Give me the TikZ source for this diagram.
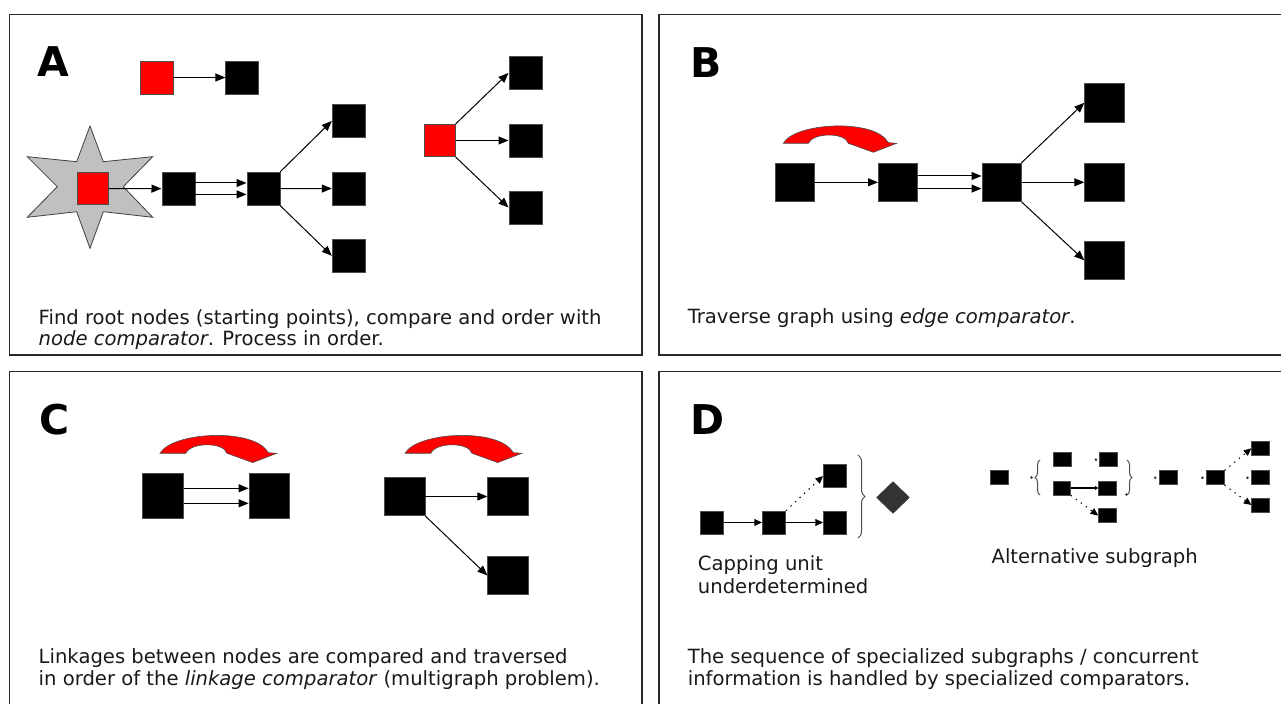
\documentclass[tikz,border=0pt]{standalone}
\usepackage{fontspec}
\setmainfont{DejaVu Sans}
\usepackage{tikz}
\usetikzlibrary{arrows.meta,shapes.geometric,decorations.pathreplacing}
\definecolor{stargray}{RGB}{192,192,192}
\definecolor{capgray}{RGB}{51,51,51}
\definecolor{framegray}{RGB}{40,40,40}

% red bent arrow, #1/#2 = left end of its tail, #3 = scale
\newcommand{\turnarrow}[3]{%
  \filldraw[turnfill, shift={(#1,#2)}, scale=#3]
    (0,0) .. controls (12,-21) and (92,-25) .. (105,-0.6) -- (113.4,0)
    -- (90,9) -- (65,0) .. controls (62,-11) and (30,-11) .. (25,0) -- cycle;}

\begin{document}
\begin{tikzpicture}[
    x=0.5pt, y=-0.5pt,
    panel/.style={draw=framegray, line width=0.7pt},
    letter/.style={font=\fontsize{20.5}{24}\selectfont\bfseries, anchor=base west, inner sep=0pt},
    note/.style={font=\fontsize{9.8}{11}\selectfont, anchor=base west, inner sep=0pt, text=black!90},
    blk/.style={draw=black!70, line width=0.3pt, fill=black, inner sep=0pt,
      minimum width=16.5pt, minimum height=16.5pt},
    rootblk/.style={blk, fill=red},
    bblk/.style={blk, minimum width=19.7pt, minimum height=19.2pt},
    cblk/.style={blk, minimum width=20.3pt, minimum height=19.2pt},
    dblk/.style={blk, minimum width=11.7pt, minimum height=11.5pt},
    sblk/.style={blk, minimum width=8.8pt, minimum height=7pt},
    arr/.style={-{Triangle[length=5pt,width=4pt]}, line width=0.5pt},
    darr/.style={-{Triangle[length=3.8pt,width=3.4pt]}, line width=0.5pt},
    dotarr/.style={darr, dash pattern=on 0.7pt off 2.4pt},
    tinyarr/.style={-{Triangle[length=1.6pt,width=2pt]}, line width=0.6pt},
    stubdot/.style={fill=black!80},
    turnfill/.style={fill=red, draw=black!70, line width=0.3pt},
    bracepath/.style={decorate, draw=black!70, line width=0.5pt},
  ]
  \useasboundingbox (0,0) rectangle (1281,704);
  \clip (0,0) rectangle (1281,704);

  % Frames
  \draw[panel] (9.3,14.3) rectangle (642,355);
  \draw[panel] (659,14.3) rectangle (1290,355);
  \draw[panel] (9.3,371.7) rectangle (642,720);
  \draw[panel] (659,371.7) rectangle (1290,720);

  % A: root nodes
  \node[letter] (tagA) at (37.3,76.7) {A};
  \node[rootblk, minimum width=16.3pt] (rtop) at (157,77.5) {};
  \node[blk] (ktop) at (242.2,77.5) {};
  \draw[arr] (rtop) -- (ktop);

  \filldraw[fill=stargray, draw=black!75, line width=0.4pt]
    (90,126) -- (103.3,161.7) -- (152.7,156.7) -- (123.3,186.7) -- (152.7,217.3)
    -- (103.3,211.7) -- (90,248.3) -- (76.7,211.7) -- (27.3,217.3) -- (57.3,186.7)
    -- (27.3,156.7) -- (76.7,161.7) -- cycle;
  \node[rootblk, minimum width=15.5pt, minimum height=16pt] (rstar) at (92.8,188.5) {};
  \node[blk] (b1) at (178.3,188.7) {};
  \node[blk] (b2) at (263.3,188.7) {};
  \node[blk] (t1) at (348.6,121) {};
  \node[blk] (t2) at (348.6,188.5) {};
  \node[blk] (t3) at (348.6,255.8) {};
  \draw[arr] (rstar) -- (b1);
  \draw[arr] ([yshift=2.85pt]b1.east) -- ([yshift=2.85pt]b2.west);
  \draw[arr] ([yshift=-2.85pt]b1.east) -- ([yshift=-2.85pt]b2.west);
  \draw[arr] (b2.north east) -- (t1.west);
  \draw[arr] (b2) -- (t2);
  \draw[arr] (b2.south east) -- (t3.west);

  \node[rootblk, minimum width=15.3pt, minimum height=16.2pt] (rhub) at (440,140.5) {};
  \node[blk] (r1) at (525.3,73) {};
  \node[blk] (r2) at (525.3,140.5) {};
  \node[blk] (r3) at (525.3,207.5) {};
  \draw[arr] (rhub.north east) -- (r1.west);
  \draw[arr] (rhub) -- (r2);
  \draw[arr] (rhub.south east) -- (r3.west);

  \node[note] (capA1) at (38.3,324.3) {Find root nodes (starting points), compare and order with};
  \node[note] (capA2) at (38.3,346) {\textit{node comparator}. Process in order.};

  % B: edge comparator
  \node[letter] (tagB) at (690.2,77.3) {B};
  \turnarrow{783.3}{143.3}{1}
  \node[bblk] (p1) at (794.5,182.3) {};
  \node[bblk] (p2) at (898,182.3) {};
  \node[bblk] (p3) at (1001.5,182.3) {};
  \node[bblk] (q1) at (1104.3,102.8) {};
  \node[bblk] (q2) at (1104.3,182.3) {};
  \node[bblk] (q3) at (1104.3,260.3) {};
  \draw[arr] (p1) -- (p2);
  \draw[arr] ([yshift=3.15pt]p2.east) -- ([yshift=3.15pt]p3.west);
  \draw[arr] ([yshift=-3.15pt]p2.east) -- ([yshift=-3.15pt]p3.west);
  \draw[arr] (p3.north east) -- (q1.west);
  \draw[arr] (p3) -- (q2);
  \draw[arr] (p3.south east) -- (q3.west);

  \node[note] (capB) at (687.4,323.3) {Traverse graph using \textit{edge comparator}.};

  % C: linkage comparator
  \node[letter] (tagC) at (38.8,434.5) {C};
  \turnarrow{160}{453.3}{1.03}
  \turnarrow{405}{453.3}{1.03}
  \node[cblk, minimum height=22.5pt] (c1) at (163,495.8) {};
  \node[cblk, minimum height=22.5pt] (c2) at (269.2,495.8) {};
  \draw[arr] ([yshift=3.75pt]c1.east) -- ([yshift=3.75pt]c2.west);
  \draw[arr] ([yshift=-3.75pt]c1.east) -- ([yshift=-3.75pt]c2.west);
  \node[cblk] (c3) at (404.7,496.5) {};
  \node[cblk] (c4) at (508,496.5) {};
  \node[cblk] (c5) at (508,575.5) {};
  \draw[arr] (c3) -- (c4);
  \draw[arr] (c3.south east) -- (c5.west);

  \node[note] (capC1) at (38.3,664) {Linkages between nodes are compared and traversed};
  \node[note] (capC2) at (38.3,685.5) {in order of the \textit{linkage comparator} (multigraph problem).};

  % D: specialized comparators
  \node[letter] (tagD) at (690.2,435) {D};
  \node[dblk] (d1) at (711.7,522.5) {};
  \node[dblk] (d2) at (774,522.5) {};
  \node[dblk] (d3) at (835,522.5) {};
  \node[dblk] (d4) at (835,476) {};
  \draw[darr] (d1) -- (d2);
  \draw[darr] (d2) -- (d3);
  \draw[dotarr] (d2.north east) -- (d4.west);
  \draw[bracepath, decoration={brace, amplitude=3.5pt}] (858,455) -- (858,538);
  \node[diamond, aspect=1, fill=capgray, draw=capgray, inner sep=0pt,
    minimum width=16.3pt, minimum height=15.8pt] (cap) at (893,497.5) {};

  \node[note] (capping1) at (697.5,570.7) {Capping unit};
  \node[note] (capping2) at (697.5,593.3) {underdetermined};

  \node[sblk, minimum width=9pt] (s0) at (999.7,477.5) {};
  \draw[bracepath, decoration={brace, amplitude=2.5pt}] (1040,495) -- (1040,460);
  \node[sblk] (s1) at (1062.3,459.7) {};
  \node[sblk] (s2) at (1108,459.7) {};
  \node[sblk] (s3) at (1061.7,488) {};
  \node[sblk] (s4) at (1107.3,488) {};
  \node[sblk] (s5) at (1107.3,515.5) {};
  \draw[bracepath, decoration={brace, amplitude=2.5pt}] (1127,460) -- (1127,495);
  \node[sblk] (s6) at (1168.3,477.8) {};
  \node[sblk] (s7) at (1215.5,477.8) {};
  \node[sblk] (s8) at (1260.5,448.3) {};
  \node[sblk] (s9) at (1260.5,477.8) {};
  \node[sblk] (s10) at (1260.5,505) {};
  \draw[tinyarr] (s3) -- (s4);
  \draw[dotarr] (s3.south east) -- (s5.west);
  \draw[dotarr] (s7.north east) -- (s8.west);
  \draw[dotarr] (s7.south east) -- (s10.west);
  \fill[stubdot] ([xshift=-1.5pt]s2.west) circle (0.7pt);
  \fill[stubdot] ([xshift=-2pt]s6.west) circle (0.7pt);
  \fill[stubdot] ([xshift=-2pt]s7.west) circle (0.7pt);
  \fill[stubdot] ([xshift=-2pt]s9.west) circle (0.7pt);
  \fill[stubdot] (1031.5,477.5) circle (0.7pt);
  \fill[stubdot] (1126.5,494.5) circle (0.7pt);

  \node[note] (alt) at (991.2,564) {Alternative subgraph};

  \node[note] (capD1) at (687.4,663.5) {The sequence of specialized subgraphs / concurrent};
  \node[note] (capD2) at (687.4,686) {information is handled by specialized comparators.};
\end{tikzpicture}
\end{document}
